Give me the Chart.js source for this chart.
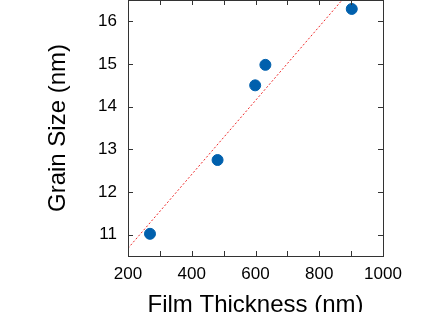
<!DOCTYPE html>
<html>
<head>
<meta charset="utf-8">
<script src="https://cdn.jsdelivr.net/npm/chart.js@4.4.0/dist/chart.umd.min.js"></script>
<style>
  html, body { margin: 0; padding: 0; background: #fff; }
  canvas { display: block; }
</style>
</head>
<body>
<canvas id="chart" width="445" height="312"></canvas>
<script>
// measured points
const thickness = [269, 481, 599, 631, 902]
const grainSize = [11.02, 12.75, 14.5, 14.98, 16.29]

// linear fit, end points
const fitX = [200, 1000]
const fitY = [10.68, 17.61]

const xTicks = [200, 400, 600, 800, 1000]
const xMinorTicks = [200, 300, 400, 500, 600, 700, 800, 900, 1000]
const yTicks = [11, 12, 13, 14, 15, 16]

const FONT = "'Liberation Sans', Arial, Helvetica, sans-serif"

// gnuplot-like frame with inward ticks
const framePlugin = {
    id: 'frame',
    afterDraw(chart) {
        const ctx = chart.ctx
        const a = chart.chartArea
        const xs = chart.scales.x
        const ys = chart.scales.y
        const len = 5
        ctx.save()
        ctx.strokeStyle = '#333'
        ctx.lineWidth = 1
        ctx.beginPath()
        xs.ticks.forEach(t => {
            const px = Math.round(xs.getPixelForValue(t.value)) + 0.5
            ctx.moveTo(px, a.bottom)
            ctx.lineTo(px, a.bottom - len)
            ctx.moveTo(px, a.top)
            ctx.lineTo(px, a.top + len)
        })
        ys.ticks.forEach(t => {
            const py = Math.round(ys.getPixelForValue(t.value)) + 0.5
            ctx.moveTo(a.left, py)
            ctx.lineTo(a.left + len, py)
            ctx.moveTo(a.right, py)
            ctx.lineTo(a.right - len, py)
        })
        ctx.stroke()
        ctx.strokeRect(Math.round(a.left) + 0.5, Math.round(a.top) + 0.5,
            Math.round(a.right - a.left), Math.round(a.bottom - a.top))
        ctx.restore()
    }
}

new Chart(document.getElementById('chart'), {
    type: 'scatter',
    data: {
        datasets: [
            {
                type: 'line',
                data: fitX.map((x, i) => ({ x: x, y: fitY[i] })),
                borderColor: '#ee2a2a',
                borderWidth: 1,
                borderDash: [2, 2],
                pointRadius: 0,
                fill: false,
                clip: 0,
                order: 2,
            },
            {
                data: thickness.map((x, i) => ({ x: x, y: grainSize[i] })),
                backgroundColor: '#0060ad',
                borderColor: '#0060ad',
                pointRadius: 5.5,
                pointHoverRadius: 5.5,
                order: 1,
            },
        ],
    },
    options: {
        responsive: false,
        animation: false,
        events: [],
        layout: { autoPadding: false, padding: { top: 0, left: 0, right: 62, bottom: 0 } },
        plugins: { legend: { display: false }, tooltip: { enabled: false } },
        scales: {
            x: {
                type: 'linear',
                min: 200,
                max: 1000,
                grid: { display: false, drawTicks: false },
                border: { display: false },
                afterBuildTicks(scale) {
                    scale.ticks = xMinorTicks.map(v => ({ value: v }))
                },
                ticks: {
                    autoSkip: false,
                    maxRotation: 0,
                    padding: 8,
                    color: '#000',
                    font: { family: FONT, size: 17 },
                    callback: v => xTicks.includes(v) ? String(v) : '',
                },
                title: {
                    display: true,
                    text: 'Film Thickness (nm)',
                    color: '#000',
                    font: { family: FONT, size: 24, lineHeight: 0.5 },
                    padding: { top: 0, bottom: 1 },
                },
                afterFit(scale) {
                    scale.height = 56
                    scale.paddingLeft = 0
                    scale.paddingRight = 0
                },
            },
            y: {
                type: 'linear',
                min: 10.5,
                max: 16.5,
                grid: { display: false, drawTicks: false },
                border: { display: false },
                afterBuildTicks(scale) {
                    scale.ticks = yTicks.map(v => ({ value: v }))
                },
                ticks: {
                    autoSkip: false,
                    padding: 11,
                    color: '#000',
                    font: { family: FONT, size: 17 },
                },
                title: {
                    display: true,
                    text: 'Grain Size (nm)',
                    color: '#000',
                    font: { family: FONT, size: 24, lineHeight: 1.2 },
                    padding: { top: 44, bottom: 0 },
                },
                afterFit(scale) {
                    scale.width = 128
                    scale.paddingTop = 0
                    scale.paddingBottom = 0
                },
            },
        },
    },
    plugins: [framePlugin],
})
</script>
</body>
</html>
